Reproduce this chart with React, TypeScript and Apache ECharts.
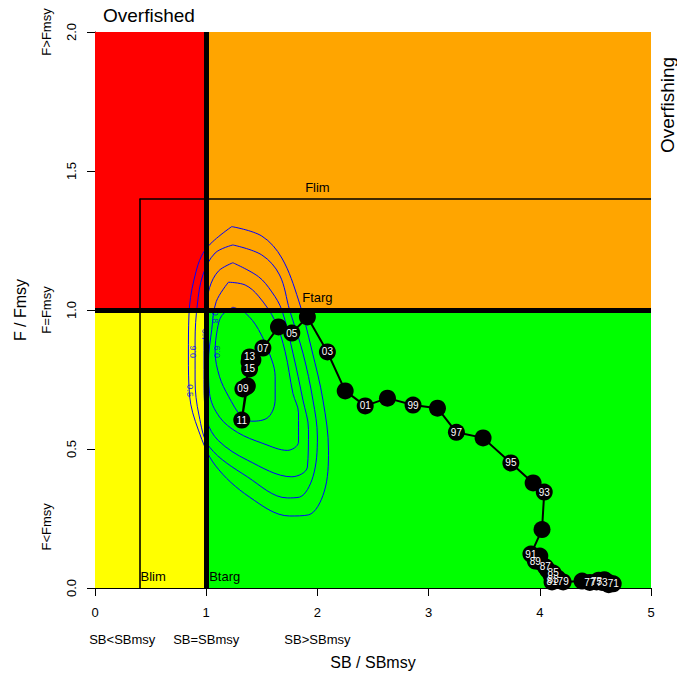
import React, { useEffect, useRef } from "react";
import * as echarts from "echarts";

// ---------- data ----------
const years = [
  1970, 1971, 1972, 1973, 1974, 1975, 1976, 1977, 1978, 1979,
  1980, 1981, 1982, 1983, 1984, 1985, 1986, 1987, 1988, 1989,
  1990, 1991, 1992, 1993, 1994, 1995, 1996, 1997, 1998, 1999,
  2000, 2001, 2002, 2003, 2004, 2005, 2006, 2007, 2008, 2009,
  2010, 2011, 2012, 2013, 2014, 2015,
];
const sbRatio = [
  4.62, 4.66, 4.61, 4.56, 4.58, 4.51, 4.53, 4.45, 4.38, 4.21,
  4.16, 4.11, 4.12, 4.12, 4.10, 4.12, 4.07, 4.05, 4.00, 3.96,
  4.00, 3.92, 4.02, 4.04, 3.94, 3.74, 3.49, 3.25, 3.08, 2.86,
  2.63, 2.43, 2.25, 2.09, 1.91, 1.77, 1.65, 1.51, 1.42, 1.33,
  1.37, 1.32, 1.36, 1.39, 1.385, 1.39,
];
const fRatio = [
  0.012, 0.015, 0.022, 0.02, 0.03, 0.022, 0.028, 0.02, 0.025, 0.022,
  0.036, 0.022, 0.04, 0.03, 0.047, 0.054, 0.065, 0.076, 0.094, 0.097,
  0.115, 0.122, 0.21, 0.345, 0.378, 0.45, 0.54, 0.56, 0.647, 0.658,
  0.683, 0.655, 0.709, 0.849, 0.975, 0.917, 0.939, 0.863, 0.82, 0.716,
  0.727, 0.604, 0.723, 0.831, 0.813, 0.788,
];

// reference points
const B_LIM = 0.4;
const B_TARG = 1;
const F_LIM = 1.4;
const F_TARG = 1;
const X_MAX = 5;
const Y_MAX = 2;
const xTicks = [0, 1, 2, 3, 4, 5];
const yTicks = [0, 0.5, 1, 1.5, 2];

// probability contours (level -> closed outline in SB/SBmsy, F/Fmsy)
const contourLevels = ["0.5", "0.6", "0.7", "0.8", "0.9"];
const contour05 = [
  [1.23, 1.30], [1.50, 1.266], [1.68, 1.187], [1.83, 1.036], [1.95, 0.856],
  [2.05, 0.676], [2.10, 0.496], [2.06, 0.345], [1.92, 0.263], [1.75, 0.259],
  [1.39, 0.327], [1.08, 0.442], [0.93, 0.568], [0.85, 0.694], [0.84, 0.838],
  [0.845, 0.982], [0.89, 1.108], [0.99, 1.216], [1.23, 1.30],
];
const contour06 = [
  [1.24, 1.234], [1.50, 1.198], [1.66, 1.126], [1.75, 1.0], [1.87, 0.845],
  [1.96, 0.676], [2.0, 0.543], [1.96, 0.40], [1.84, 0.327], [1.73, 0.324],
  [1.37, 0.40], [1.03, 0.507], [0.935, 0.622], [0.90, 0.748], [0.90, 0.892],
  [0.92, 1.018], [0.97, 1.126], [1.08, 1.205], [1.24, 1.234],
];
const contour07 = [
  [1.24, 1.17], [1.47, 1.12], [1.59, 1.065], [1.68, 1.0], [1.78, 0.845],
  [1.87, 0.676], [1.92, 0.57], [1.91, 0.435], [1.77, 0.40], [1.37, 0.46],
  [1.11, 0.53], [1.01, 0.60], [0.98, 0.75], [0.98, 0.89], [1.0, 1.0],
  [1.03, 1.08], [1.11, 1.14], [1.24, 1.17],
];
const contour08 = [
  [1.20, 1.10], [1.35, 1.09], [1.47, 1.05], [1.62, 0.96], [1.71, 0.85],
  [1.78, 0.70], [1.83, 0.63], [1.83, 0.525], [1.73, 0.495], [1.51, 0.52],
  [1.28, 0.56], [1.12, 0.615], [1.03, 0.70], [1.02, 0.81], [1.05, 0.93],
  [1.09, 1.03], [1.20, 1.10],
];
const contour09 = [
  [1.24, 1.01], [1.35, 0.99], [1.47, 0.93], [1.59, 0.82], [1.62, 0.76],
  [1.62, 0.68], [1.56, 0.615], [1.41, 0.60], [1.32, 0.615], [1.20, 0.69],
  [1.12, 0.76], [1.08, 0.85], [1.10, 0.93], [1.14, 0.98], [1.24, 1.01],
];
const contourLines = [contour05, contour06, contour07, contour08, contour09];
const contourLabelX = [0.85, 0.88, 0.99, 1.08, 1.10];
const contourLabelY = [0.71, 0.85, 0.91, 0.975, 0.85];
const contourLabelRot = [-90, 90, -90, -90, 90];

const FONT = "'Liberation Sans', Arial, Helvetica, sans-serif";

export default function App() {
  const ref = useRef<HTMLDivElement>(null);

  useEffect(() => {
    if (!ref.current) return;
    const chart = echarts.init(ref.current, null, { renderer: "svg" });

    const zones = [
      { x0: 0, x1: B_TARG, y0: F_TARG, y1: Y_MAX, color: "#FF0000" },
      { x0: B_TARG, x1: X_MAX, y0: F_TARG, y1: Y_MAX, color: "#FFA500" },
      { x0: 0, x1: B_TARG, y0: 0, y1: F_TARG, color: "#FFFF00" },
      { x0: B_TARG, x1: X_MAX, y0: 0, y1: F_TARG, color: "#00FF00" },
    ];

    const series: any[] = [];
    series.push({
      type: "line",
      data: [],
      z: 1,
      silent: true,
      markArea: {
        silent: true,
        label: { show: false },
        data: zones.map((zn) => [
          { xAxis: zn.x0, yAxis: zn.y0, itemStyle: { color: zn.color, opacity: 1, borderWidth: 0 } },
          { xAxis: zn.x1, yAxis: zn.y1 },
        ]),
      },
    });

    contourLines.forEach((pts, i) => {
      series.push({
        type: "line",
        name: "contour" + contourLevels[i],
        data: pts,
        symbol: "none",
        smooth: 0.35,
        z: 2,
        silent: true,
        lineStyle: { color: "#0000FF", width: 1 },
      });
    });

    series.push({
      type: "scatter",
      z: 2,
      silent: true,
      symbolSize: 1,
      itemStyle: { color: "rgba(0,0,0,0)" },
      data: contourLevels.map((lv, i) => ({
        value: [contourLabelX[i], contourLabelY[i]],
        name: lv,
        label: { rotate: contourLabelRot[i] },
      })),
      label: {
        show: true,
        position: "inside",
        formatter: (p: any) => p.name,
        color: "#0000FF",
        fontSize: 9,
        fontFamily: FONT,
      },
    });

    series.push({
      type: "line",
      data: [],
      z: 3,
      silent: true,
      markLine: {
        silent: true,
        symbol: ["none", "none"],
        label: { show: false },
        lineStyle: { color: "#000000", type: "solid", width: 1.6 },
        data: [
          { xAxis: B_TARG, lineStyle: { width: 5, color: "#000", type: "solid" } },
          { yAxis: F_TARG, lineStyle: { width: 5, color: "#000", type: "solid" } },
          [{ coord: [B_LIM, 0] }, { coord: [B_LIM, F_LIM] }],
          [{ coord: [B_LIM, F_LIM] }, { coord: [X_MAX, F_LIM] }],
        ],
      },
    });

    series.push({
      type: "line",
      name: "trajectory",
      z: 4,
      silent: true,
      data: sbRatio.map((x, i) => [x, fRatio[i]]),
      symbol: "circle",
      symbolSize: 17,
      showAllSymbol: true,
      itemStyle: { color: "#000000" },
      lineStyle: { color: "#000000", width: 2 },
      label: {
        show: true,
        position: "inside",
        color: "#FFFFFF",
        fontSize: 10,
        fontFamily: FONT,
        formatter: (p: any) => {
          const yr = years[p.dataIndex];
          return yr % 2 === 1 ? String(yr % 100).padStart(2, "0") : "";
        },
      },
    });

    chart.setOption({
      animation: false,
      backgroundColor: "#FFFFFF",
      grid: { left: 95, right: 26, top: 32, bottom: 85, containLabel: false },
      xAxis: {
        type: "value",
        min: xTicks[0],
        max: xTicks[xTicks.length - 1],
        interval: 1,
        axisLine: { show: true, onZero: false, lineStyle: { color: "#000", width: 1 } },
        axisTick: { show: true, length: 8, lineStyle: { color: "#000" } },
        axisLabel: { color: "#000", fontSize: 13, fontFamily: FONT, margin: 18 },
        splitLine: { show: false },
      },
      yAxis: {
        type: "value",
        min: yTicks[0],
        max: yTicks[yTicks.length - 1],
        interval: 0.5,
        axisLine: { show: true, onZero: false, lineStyle: { color: "#000", width: 1 } },
        axisTick: { show: true, length: 8, lineStyle: { color: "#000" } },
        axisLabel: {
          color: "#000",
          fontSize: 13,
          fontFamily: FONT,
          rotate: 90,
          margin: 17,
          formatter: (v: number) => v.toFixed(1),
        },
        splitLine: { show: false },
      },
      series,
    });

    const toPx = (x: number, y: number) =>
      chart.convertToPixel({ gridIndex: 0 } as any, [x, y]) as number[];

    const txt = (
      text: string,
      x: number,
      y: number,
      size: number,
      align: string,
      valign: string,
      rotation = 0
    ) => ({
      type: "text",
      x,
      y,
      rotation,
      silent: true,
      z: 100,
      style: {
        text,
        fill: "#000",
        fontSize: size,
        fontFamily: FONT,
        align,
        verticalAlign: valign,
        textAlign: align,
        textVerticalAlign: valign,
      },
    });

    const pFlim = toPx(2.0, F_LIM);
    const pFtarg = toPx(2.0, F_TARG);
    const pBlim = toPx(B_LIM, 0.04);
    const pBtarg = toPx(B_TARG, 0.04);
    const axisY = toPx(0, 0)[1];
    const midX = toPx(2.5, 0)[0];
    const midY = toPx(0, 1)[1];

    chart.setOption({
      graphic: [
        txt("Flim", pFlim[0], pFlim[1] - 5, 13, "center", "bottom"),
        txt("Ftarg", pFtarg[0], pFtarg[1] - 6, 13, "center", "bottom"),
        txt("Blim", pBlim[0] + 1, pBlim[1], 13, "left", "middle"),
        txt("Btarg", pBtarg[0] + 3, pBtarg[1], 13, "left", "middle"),
        txt("Overfished", 103, 15, 19, "left", "middle"),
        txt("Overfishing", 667, 105, 19, "center", "middle", Math.PI / 2),
        txt("SB<SBmsy", toPx(0.245, 0)[0], axisY + 51, 13, "center", "middle"),
        txt("SB=SBmsy", toPx(1.0, 0)[0], axisY + 51, 13, "center", "middle"),
        txt("SB>SBmsy", toPx(2.0, 0)[0], axisY + 51, 13, "center", "middle"),
        txt("SB / SBmsy", midX, axisY + 74, 16, "center", "middle"),
        txt("F>Fmsy", 46, toPx(0, 2.0)[1], 13, "center", "middle", Math.PI / 2),
        txt("F=Fmsy", 46, toPx(0, 1.0)[1], 13, "center", "middle", Math.PI / 2),
        txt("F<Fmsy", 46, toPx(0, 0.22)[1], 13, "center", "middle", Math.PI / 2),
        txt("F / Fmsy", 20, midY, 16, "center", "middle", Math.PI / 2),
      ],
    });

    return () => chart.dispose();
  }, []);

  return (
    <div
      ref={ref}
      style={{ position: "fixed", left: 0, top: 0, width: 677, height: 673, background: "#fff" }}
    />
  );
}
